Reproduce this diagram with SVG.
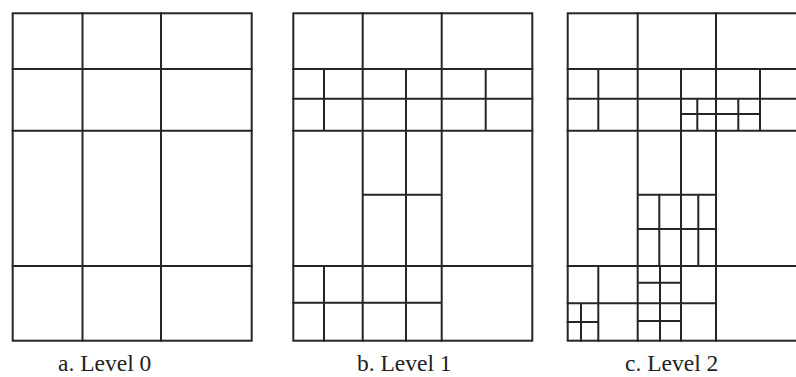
<svg xmlns="http://www.w3.org/2000/svg" width="796" height="377" viewBox="0 0 796 377">
<style>
.g{fill:none;stroke:#262626;stroke-width:2;stroke-linecap:square}
.lbl{font-family:"Liberation Serif","Times New Roman",serif;font-size:23.5px;fill:#222}
</style>
<rect x="0" y="0" width="796" height="377" fill="#fff"/>
<g id="panel-a">
<rect class="g" x="12.7" y="13.3" width="239" height="327.4"/>
<path class="g" d="M82.5 13.3V340.7M161 13.3V340.7M12.7 69H251.7M12.7 130.7H251.7M12.7 266H251.7"/>
</g>
<g id="panel-b">
<rect class="g" x="293.3" y="13.3" width="239" height="327.4"/>
<path class="g" d="M362.7 13.3V340.7M441.7 13.3V340.7M293.3 69H532.3M293.3 130.7H532.3M293.3 266H532.3M293.3 98.7H532.3M324 69V130.7M406 69V340.7M485.7 69V130.7M362.7 194.7H441.7M293.3 302.7H441.7M324 266V340.7"/>
</g>
<g id="panel-c">
<rect class="g" x="567.7" y="13.3" width="239" height="327.4"/>
<path class="g" d="M637.7 13.3V340.7M716 13.3V340.7M567.7 69H806.7M567.7 130.7H806.7M567.7 266H806.7M567.7 98.7H806.7M598.3 69V130.7M598.3 266V340.7M681 69V340.7M760 69V130.7M697.3 98.7V130.7M738.3 98.7V130.7M681 114H760M637.7 194.7H716M659.3 194.7V266M698.3 194.7V266M637.7 229H716M567.7 303.3H716M581 303.3V340.7M567.7 322H598.3M660 266V340.7M637.7 282.7H681M637.7 321H681"/>
</g>
<g id="labels">
<text class="lbl" x="58" y="371">a. Level 0</text>
<text class="lbl" x="357" y="371">b. Level 1</text>
<text class="lbl" x="625" y="371">c. Level 2</text>
</g>
</svg>
